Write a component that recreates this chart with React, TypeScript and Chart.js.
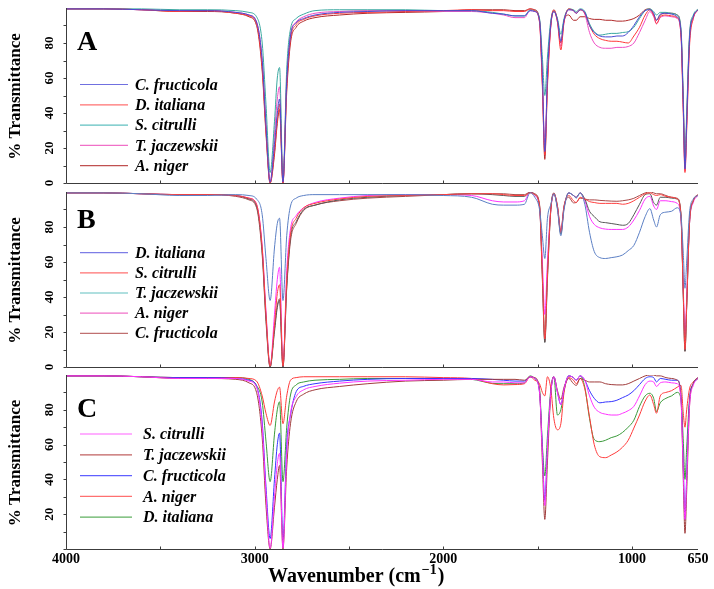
import React, { useEffect, useRef } from "react";
import { Chart, registerables } from "chart.js";

Chart.register(...registerables);

const FONT = "'Liberation Serif', 'Times New Roman', serif";

// Wavenumber grid (cm-1), shared by every spectrum
const wavenumbers = [
  4000, 3800, 3600, 3400, 3250, 3100, 3030, 2990, 2960, 2940,
  2918, 2895, 2880, 2868, 2850, 2830, 2810, 2780, 2740, 2680,
  2550, 2400, 2200, 2000, 1850, 1740, 1680, 1620, 1570, 1540,
  1515, 1490, 1475, 1462, 1448, 1430, 1414, 1395, 1377, 1360,
  1335, 1310, 1295, 1275, 1250, 1225, 1200, 1170, 1140, 1110,
  1080, 1050, 1020, 990, 960, 930, 905, 885, 870, 850,
  820, 790, 760, 740, 728, 719, 710, 695, 675, 650,
];

const yTickLabels = [0, 20, 40, 60, 80];
const yTickMarks = [0, 10, 20, 30, 40, 50, 60, 70, 80, 90];
const xTickLabels = [4000, 3000, 2000, 1000, 650];
const xTickMarks = [3500, 3000, 2500, 2000, 1500, 1000];

// ---------- Panel A ----------
const namesA = ["C. fructicola", "D. italiana", "S. citrulli", "T. jaczewskii", "A. niger"];
const colorsA = ["#4a4ad2", "#ff3838", "#3aa8a0", "#ee4cc4", "#b02a2a"];
const legendColorsA = ["#7070e0", "#ff7070", "#60c0c0", "#f070c8", "#c05050"];
const a_Cfructicola = [
  99.5, 99.5, 99, 98.5, 98.5, 97.5, 96, 92, 70, 33,
  0.5, 22, 40, 48, 0.5, 58, 84, 91.5, 94, 96,
  97.5, 98, 98.5, 98.5, 98.5, 97, 96.5, 95.5, 95.5, 98.5,
  98, 93, 62, 18, 62, 91, 98, 93, 81, 93,
  99, 98.5, 97, 99, 97.5, 90, 86, 84, 83.5, 83.5,
  84, 84, 86, 90, 95, 98.5, 99, 97, 93, 96.5,
  97, 96.5, 95, 86, 45, 8, 35, 82, 95, 99,
];
const a_Ditaliana = [
  99.5, 99.5, 99, 98, 98.5, 97, 95.5, 91, 66, 30,
  0, 18, 36, 45, 0, 55, 82, 90.5, 93.5, 95.5,
  97, 97.5, 98, 98.5, 99, 98.5, 98.5, 98, 98, 99.5,
  98.5, 92, 55, 16, 55, 90, 98.5, 92, 76, 92,
  99.5, 98.5, 97, 99, 97, 90, 85, 82.5, 81.5, 81,
  81, 80.5, 80, 84, 89, 96, 99, 96, 91, 95,
  96, 95.5, 94.5, 84, 40, 6, 30, 78, 94, 99,
];
const a_Scitrulli = [
  99.5, 99.5, 99.5, 99, 99, 98.5, 97.5, 95, 80, 45,
  6, 35, 60, 66, 2, 65, 88, 94, 96.5, 98.5,
  99, 99, 99, 98.5, 98.5, 97.5, 96.5, 95.5, 95.5, 99,
  98.5, 94, 72, 50, 72, 93, 98, 94, 85, 94,
  99.5, 99, 98, 99.5, 98, 91, 86.5, 84.5, 85, 85.5,
  85.5, 86, 86.5, 89, 94, 98.5, 99.5, 98, 96, 97.5,
  97.5, 97, 96, 88, 50, 12, 40, 85, 96, 99.5,
];
const a_Tjaczewskii = [
  99.5, 99.5, 99, 98.5, 98.5, 97.5, 96, 92, 70, 33,
  0.5, 28, 48, 55, 0.5, 60, 85, 92, 95, 97,
  98, 98.5, 98.5, 98, 98, 97, 96, 94.5, 94.5, 98.5,
  98, 92, 58, 22, 58, 90, 98, 92, 78, 92,
  99, 98.5, 97, 99, 96.5, 86, 80, 77.5, 77, 77,
  77.5, 77.5, 78, 80, 86, 93, 98, 95, 91, 94.5,
  95.5, 95, 94, 84, 42, 7, 32, 80, 94, 99,
];
const a_Aniger = [
  99.5, 99.5, 99, 98, 98, 97, 95, 90, 64, 28,
  0, 16, 34, 42, 0, 52, 80, 89, 92.5, 94.5,
  96, 97, 97.5, 98, 99, 99, 99, 98.5, 98.5, 99.5,
  99, 93, 58, 13.5, 58, 91, 99, 93, 80, 93,
  96, 93, 93, 95, 95, 94, 93.5, 93.5, 93, 93,
  92.5, 92.5, 93, 94, 96, 99, 99.5, 96, 93, 96,
  97, 97, 96, 86, 45, 9, 36, 83, 95, 99,
];

// ---------- Panel B ----------
const namesB = ["D. italiana", "S. citrulli", "T. jaczewskii", "A. niger", "C. fructicola"];
const colorsB = ["#5b7fc4", "#ff4040", "#555555", "#ff33ff", "#a84848"];
const legendColorsB = ["#7d7de6", "#ff7070", "#60c0c0", "#f070c8", "#c07070"];
const b_Ditaliana = [
  99.5, 99.5, 99, 98, 98, 98.5, 98, 96, 87, 62,
  38, 68, 82, 85, 38, 75, 92, 96.5, 98, 98.5,
  98.5, 98.5, 98.5, 98, 97, 93, 92.5, 92.5, 93, 99.5,
  97, 90, 75, 62, 85, 93, 99, 90, 75, 90,
  99.5, 98, 96.5, 99.5, 93, 77, 66, 62.5, 62, 62.5,
  63, 64, 66.5, 69.5, 77, 86, 90.5, 84, 80, 87,
  88.5, 89, 91, 86, 65, 45, 60, 88, 96, 98,
];
const b_Scitrulli = [
  99.5, 99.5, 99, 98.5, 98.5, 98, 96.5, 93, 68, 30,
  0.5, 24, 42, 47, 0.5, 50, 76, 85, 91, 93.5,
  96, 97.5, 98, 98.5, 99, 99, 98.5, 98, 98, 99.5,
  98.5, 92, 52, 16, 52, 90, 99, 92, 77, 92,
  98, 95, 94, 97, 96, 94.5, 94, 93.5, 93.5, 93.5,
  93.5, 93, 93.5, 95, 97, 99, 99.5, 98.5, 98, 98.5,
  97.5, 97, 96, 86, 42, 10, 35, 82, 95, 98.5,
];
const b_Tjaczewskii = [
  99.5, 99.5, 99, 98.5, 98.5, 98, 96, 92, 66, 28,
  0, 20, 34, 38, 0, 46, 74, 83, 90, 92.5,
  95.5, 97, 98, 98.5, 99, 98.5, 98, 97.5, 97.5, 100,
  98.5, 92, 50, 14, 50, 90, 99, 91, 76, 91,
  99.5, 98, 97, 99.5, 96, 89, 86, 83, 82.5, 82,
  81.5, 81, 82, 87, 93, 98.5, 99, 94, 92.5, 97,
  97, 96.5, 96, 86, 40, 9, 34, 82, 95, 98.5,
];
const b_Aniger = [
  99.5, 99.5, 99, 98.5, 98.5, 98, 96.5, 93, 69, 32,
  0.5, 30, 50, 57, 0.5, 55, 79, 86.5, 91, 94,
  96.5, 98, 98.5, 98.5, 98, 95, 94.3, 94.3, 95, 100,
  98, 91, 60, 30, 60, 90, 99, 91, 77, 91,
  99.5, 98, 97, 99.5, 95, 86, 81.5, 79.5, 78.8, 78.6,
  78.6, 78.6, 80, 84, 89.5, 96, 97.5, 92, 90, 95,
  95, 94.5, 93.5, 84, 45, 18, 40, 82, 94, 98,
];
const b_Cfructicola = [
  99.5, 99.5, 99, 98.5, 98.5, 97.5, 95.5, 91, 64, 26,
  0, 22, 35, 39, 0, 45, 72, 82, 89.5, 92.5,
  95, 96.5, 97.5, 98.5, 99, 99, 99, 98.5, 98.5, 100,
  99, 93, 55, 14.5, 55, 91, 99.5, 92, 78, 92,
  97, 93.8, 94, 96.5, 96, 95.5, 95.5, 95.2, 95, 94.8,
  94.7, 95, 95.5, 96.4, 98, 99.5, 100, 99.5, 99, 99,
  98, 97, 96.4, 87, 42, 9, 35, 84, 95, 98.5,
];

// ---------- Panel C ----------
const namesC = ["S. citrulli", "T. jaczewskii", "C. fructicola", "A. niger", "D. italiana"];
const colorsC = ["#ff33ff", "#a03c3c", "#3535ff", "#ff3a3a", "#3a9a3a"];
const legendColorsC = ["#ff60ff", "#c06060", "#6060ff", "#ff7070", "#60b060"];
const c_Scitrulli = [
  99.5, 99.5, 99, 98, 98, 98, 96.5, 93, 70, 32,
  0.5, 30, 49, 55, 0.5, 55, 78, 87.6, 91.5, 93.4,
  95.3, 96.5, 97, 97.5, 97.5, 96, 96, 95.5, 95.5, 99,
  98, 90, 55, 25, 58, 90, 99, 90, 83, 92,
  99.5, 98.5, 97, 99.5, 97, 88, 81.5, 78.5, 77.5, 77,
  77, 78, 79.5, 82, 88, 94.5, 96.5, 96, 93.4, 95.5,
  96, 95.5, 95, 85, 45, 17, 40, 82, 94, 98,
];
const c_Tjaczewskii = [
  99.5, 99.5, 99, 98, 98, 97.5, 95.5, 90, 64, 25,
  0, 24, 40, 48, 0, 47, 72, 84.6, 89, 91.5,
  93.4, 95, 96.5, 97, 97.5, 97.5, 97.5, 97.5, 97, 99,
  98.5, 91, 50, 17, 50, 90, 99, 91, 86, 93,
  98, 95, 94, 98, 97, 96, 96, 96, 95, 94.5,
  94.3, 94.3, 95, 96.5, 98, 99.5, 100, 100, 99.5, 99.5,
  98.5, 98, 97, 87, 40, 9, 33, 82, 95, 98.5,
];
const c_Cfructicola = [
  99.5, 99.5, 99, 98.5, 98.5, 98, 97, 93.5, 73, 36,
  6, 40, 60, 66.6, 5, 60, 77, 90.4, 93.5, 95,
  96.5, 97.5, 98, 98, 98, 97.5, 97, 96.5, 96.5, 99,
  98, 90, 58, 28, 58, 90, 99, 90, 83, 92,
  99.5, 98.5, 97, 99.5, 97, 91, 86.6, 84, 84.5, 84.7,
  85.5, 87, 88.5, 91, 94.5, 98, 99, 98.5, 96, 98,
  97.5, 97, 97, 87, 48, 17, 42, 85, 95, 98.5,
];
const c_Aniger = [
  99.5, 99.5, 99, 98.5, 98.5, 98.5, 98, 96.5, 88, 78,
  71, 84.5, 91, 93, 72, 88, 97, 98.5, 99, 99,
  99, 99, 99, 98.5, 98, 95, 94.3, 94.5, 95, 99,
  97, 95, 90, 88, 99, 92, 75, 68.5, 72, 90,
  98.5, 97, 95, 98, 92, 76, 60, 53, 52.5, 54,
  55.8, 58.5, 62.5, 69.5, 77, 85, 88.5, 83, 78, 88,
  90, 91, 93, 94, 78, 70, 80, 92, 96, 98.5,
];
const c_Ditaliana = [
  99.5, 99.5, 99, 98.5, 98.5, 98.5, 97.5, 94, 84.5, 62,
  38.7, 66, 80, 84.6, 38.7, 70, 88.5, 94.3, 96, 97,
  97.5, 98, 98, 98, 97.5, 95.2, 95, 95, 95.5, 99.5,
  98, 92, 60, 42, 65, 92, 99, 77, 80, 91,
  99.5, 98.5, 97, 99.5, 93, 75, 63, 61.7, 62.5, 64,
  65, 67, 70, 74, 82, 88, 89.5, 86.6, 79, 84,
  86.6, 88, 90, 86, 62, 40, 58, 86, 95, 98,
];

const PANELS = [
  {
    letter: "A", top: 0, height: 186, padTop: 8, padBottom: 3,
    letterBase: 50, legendY: 84.5, legendStep: 20.3, legendX1: 80, legendX2: 128, legendTextX: 135,
    names: namesA, colors: colorsA, legendColors: legendColorsA,
    series: [a_Cfructicola, a_Ditaliana, a_Scitrulli, a_Tjaczewskii, a_Aniger],
    zeroLabel: true, xLabels: false,
  },
  {
    letter: "B", top: 186, height: 184, padTop: 6, padBottom: 3,
    letterBase: 42, legendY: 66.7, legendStep: 20.15, legendX1: 80, legendX2: 128, legendTextX: 135,
    names: namesB, colors: colorsB, legendColors: legendColorsB,
    series: [b_Ditaliana, b_Scitrulli, b_Tjaczewskii, b_Aniger, b_Cfructicola],
    zeroLabel: true, xLabels: false,
  },
  {
    letter: "C", top: 370, height: 219, padTop: 5, padBottom: 40,
    letterBase: 47, legendY: 64, legendStep: 20.8, legendX1: 80, legendX2: 132, legendTextX: 143,
    names: namesC, colors: colorsC, legendColors: legendColorsC,
    series: [c_Scitrulli, c_Tjaczewskii, c_Cfructicola, c_Aniger, c_Ditaliana],
    zeroLabel: false, xLabels: true,
  },
];

function Panel({ cfg }: { cfg: any }) {
  const ref = useRef<HTMLCanvasElement | null>(null);

  useEffect(() => {
    const canvas = ref.current;
    if (!canvas) return;

    const decor = {
      id: "decor",
      afterDraw(chart: any) {
        const { ctx, chartArea: a, scales } = chart;
        const xs = scales.x;
        const ys = scales.y;
        ctx.save();
        ctx.strokeStyle = "#3c3c3c";
        ctx.lineWidth = 1;
        ctx.beginPath();
        const lx = Math.round(a.left) + 0.5;
        const by = Math.round(a.bottom) + 0.5;
        ctx.moveTo(lx, a.top);
        ctx.lineTo(lx, by);
        ctx.lineTo(a.right, by);
        for (const v of yTickMarks) {
          const y = Math.round(ys.getPixelForValue(v)) + 0.5;
          ctx.moveTo(lx - 3, y);
          ctx.lineTo(lx, y);
        }
        for (const w of xTickMarks) {
          const x = Math.round(xs.getPixelForValue(w)) + 0.5;
          ctx.moveTo(x, by);
          ctx.lineTo(x, by - 3);
        }
        ctx.stroke();

        // y tick labels, rotated
        ctx.fillStyle = "#000";
        ctx.font = `bold 13px ${FONT}`;
        ctx.textAlign = "center";
        ctx.textBaseline = "middle";
        for (const v of yTickLabels) {
          if (v === 0 && !cfg.zeroLabel) continue;
          const y = ys.getPixelForValue(v);
          ctx.save();
          ctx.translate(50, y);
          ctx.rotate(-Math.PI / 2);
          ctx.fillText(String(v), 0, 0);
          ctx.restore();
        }

        // y title
        ctx.save();
        ctx.font = `bold 17px ${FONT}`;
        ctx.translate(16, (a.top + a.bottom) / 2 + 1);
        ctx.rotate(-Math.PI / 2);
        ctx.fillText("% Transmittance", 0, 0);
        ctx.restore();

        // panel letter
        ctx.font = `bold 28px ${FONT}`;
        ctx.textAlign = "left";
        ctx.textBaseline = "alphabetic";
        ctx.fillText(cfg.letter, 77, cfg.letterBase);

        // legend
        ctx.font = `italic bold 16px ${FONT}`;
        ctx.textBaseline = "middle";
        cfg.names.forEach((name: string, i: number) => {
          const y = cfg.legendY + i * cfg.legendStep;
          ctx.strokeStyle = cfg.legendColors[i];
          ctx.lineWidth = 1.2;
          ctx.beginPath();
          ctx.moveTo(cfg.legendX1, y);
          ctx.lineTo(cfg.legendX2, y);
          ctx.stroke();
          ctx.fillStyle = "#000";
          ctx.fillText(name, cfg.legendTextX, y + 1);
        });

        if (cfg.xLabels) {
          ctx.font = `bold 14px ${FONT}`;
          ctx.textAlign = "center";
          ctx.textBaseline = "alphabetic";
          for (const w of xTickLabels) {
            const x = xs.getPixelForValue(w);
            ctx.fillText(String(w), x, a.bottom + 14);
          }
          // axis title with superscript
          ctx.textAlign = "left";
          const base = a.bottom + 33;
          let x = 268;
          ctx.font = `bold 20px ${FONT}`;
          const t1 = "Wavenumber (cm";
          ctx.fillText(t1, x, base);
          x += ctx.measureText(t1).width + 1;
          ctx.font = `bold 14px ${FONT}`;
          const t2 = "\u22121";
          ctx.fillText(t2, x, base - 8);
          x += ctx.measureText(t2).width + 1;
          ctx.font = `bold 20px ${FONT}`;
          ctx.fillText(")", x, base);
        }
        ctx.restore();
      },
    };

    const chart = new Chart(canvas, {
      type: "line",
      data: {
        datasets: cfg.series.map((s: number[], i: number) => ({
          label: cfg.names[i],
          data: wavenumbers.map((w, j) => ({ x: w, y: s[j] })),
          borderColor: cfg.colors[i],
          backgroundColor: cfg.colors[i],
          borderWidth: 1,
          pointRadius: 0,
          fill: false,
          cubicInterpolationMode: "monotone",
        })),
      },
      options: {
        animation: false,
        responsive: false,
        maintainAspectRatio: false,
        events: [],
        layout: { padding: { left: 66, right: 16, top: cfg.padTop, bottom: cfg.padBottom } },
        plugins: { legend: { display: false }, tooltip: { enabled: false } },
        scales: {
          x: { type: "linear", reverse: true, min: 650, max: 4000, display: false },
          y: { type: "linear", min: 0, max: 100, display: false },
        },
      } as any,
      plugins: [decor],
    });
    return () => chart.destroy();
  }, [cfg]);

  return (
    <canvas
      ref={ref}
      width={714}
      height={cfg.height}
      style={{ position: "absolute", left: 0, top: cfg.top, width: 714, height: cfg.height, display: "block" }}
    />
  );
}

export default function App() {
  return (
    <div style={{ position: "absolute", left: 0, top: 0, width: 714, height: 589, background: "#fff" }}>
      {PANELS.map((p) => (
        <Panel key={p.letter} cfg={p} />
      ))}
    </div>
  );
}
